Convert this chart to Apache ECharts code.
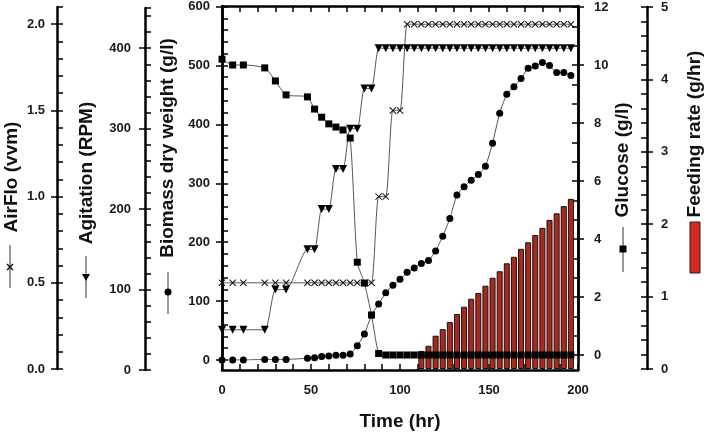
<!DOCTYPE html>
<html><head><meta charset="utf-8">
<script src="https://cdn.jsdelivr.net/npm/echarts@6/dist/echarts.min.js"></script>
<style>html,body{margin:0;padding:0;background:#fff}#c{width:709px;height:436px}</style>
</head><body><div id="c"></div>
<script>
// ---- data ----
const time = [0,6,12,24,30,36,48,52,56,60,64,68,72,76,80,84,88,92,96,100,104,108,112,116,120,124,128,132,136,140,144,148,152,156,160,164,168,172,176,180,184,188,192,196];
const biomass = [0,0,0,1,1,1,3,4,6,7,8,8,10,24,44,76,95,114,127,137,149,156,164,169,185,210,240,280,294,305,315,329,368,419,451,464,478,495,499,505,500,488,488,483];
const glucose = [10.2,10.0,10.0,9.9,9.45,8.97,8.9,8.48,8.2,7.97,7.86,7.76,7.48,3.2,2.48,1.38,0.05,0,0,0,0,0,0,0,0,0,0,0,0,0,0,0,0,0,0,0,0,0,0,0,0,0,0,0];
const agitation = [50,50,50,50,100,100,150,150,200,200,250,250,300,300,350,350,400,400,400,400,400,400,400,400,400,400,400,400,400,400,400,400,400,400,400,400,400,400,400,400,400,400,400,400];
const airflow = [0.5,0.5,0.5,0.5,0.5,0.5,0.5,0.5,0.5,0.5,0.5,0.5,0.5,0.5,0.5,0.5,1.0,1.0,1.5,1.5,2.0,2.0,2.0,2.0,2.0,2.0,2.0,2.0,2.0,2.0,2.0,2.0,2.0,2.0,2.0,2.0,2.0,2.0,2.0,2.0,2.0,2.0,2.0,2.0];
const feedTime = [112,116,120,124,128,132,136,140,144,148,152,156,160,164,168,172,176,180,184,188,192,196];
const feedRate = [0.25,0.32,0.46,0.55,0.65,0.76,0.86,0.97,1.05,1.15,1.26,1.35,1.46,1.55,1.66,1.75,1.85,1.95,2.06,2.15,2.25,2.35];

const FONT = 'Liberation Sans, Arial, sans-serif';
const lab = {fontFamily: FONT, fontWeight: 'bold', fontSize: 13, color: '#1a1a1a'};
const pair = (values) => values.map((v, i) => [time[i], v]);
const tickLine = {color: '#000', width: 1.5};

// grids: 0 frame, 1 biomass, 2 glucose, 3 airflow, 4 agitation, 5 feed
const grids = [
  {left: 222, right: 131, top: 6, bottom: 66},
  {left: 222, right: 131, top: 6, bottom: 76},
  {left: 222, right: 131, top: 7, bottom: 81},
  {left: 222, right: 131, top: 7, bottom: 67},
  {left: 222, right: 131, top: 8, bottom: 66},
  {left: 222, right: 131, top: 7, bottom: 67}
];

const xAxes = [
  {gridIndex: 0, type: 'value', position: 'bottom', min: 0, max: 200, interval: 50,
   axisLine: {show: true, onZero: false, lineStyle: {color: '#000', width: 2.5}},
   axisTick: {show: true, inside: true, length: 6, lineStyle: tickLine},
   minorTick: {show: true, splitNumber: 5, length: 6, lineStyle: tickLine},
   axisLabel: Object.assign({margin: 14}, lab), splitLine: {show: false}},
  {gridIndex: 0, type: 'value', position: 'top', min: 0, max: 200, interval: 50,
   axisLine: {show: true, onZero: false, lineStyle: {color: '#000', width: 2.5}},
   axisTick: {show: true, inside: true, length: 6, lineStyle: tickLine},
   minorTick: {show: true, splitNumber: 5, length: 6, lineStyle: tickLine},
   axisLabel: {show: false}, splitLine: {show: false}}
];
for (let g = 1; g <= 5; g++) {
  xAxes.push({gridIndex: g, type: 'value', min: 0, max: 200, show: false});
}
const xIdx = g => g + 1;

const yAxes = [];
function frameAxis(pos) {
  yAxes.push({gridIndex: 0, type: 'value', position: pos, min: 0, max: 1,
    axisLine: {show: true, onZero: false, lineStyle: {color: '#000', width: 2.5}},
    axisTick: {show: false}, axisLabel: {show: false}, splitLine: {show: false}});
}
frameAxis('left'); frameAxis('right');

function scaleAxis(g, pos, offset, min, max, interval, split, margin, showMax, decimals) {
  const idx = yAxes.length;
  yAxes.push({gridIndex: g, type: 'value', position: pos, offset: offset, min: min, max: max, interval: interval,
    axisLine: {show: true, onZero: false, lineStyle: {color: '#000', width: 2.5}},
    axisTick: {show: true, length: 6, lineStyle: tickLine},
    axisLabel: Object.assign({margin: margin, showMaxLabel: showMax,
      formatter: v => v.toFixed(decimals)}, lab),
    splitLine: {show: false}});
  yAxes.push({gridIndex: g, type: 'value', position: pos, offset: offset, min: min, max: max, interval: interval,
    axisLine: {show: false, onZero: false},
    axisTick: {show: true, inside: true, length: 6, lineStyle: tickLine},
    minorTick: {show: true, splitNumber: split, length: 6, lineStyle: tickLine},
    axisLabel: {show: false}, splitLine: {show: false}});
  return idx;
}
const yBio = scaleAxis(1, 'left', 0, 0, 600, 100, 5, 12, true, 0);
const yGlu = scaleAxis(2, 'right', 0, 0, 12, 2, 3, 16, true, 0);
const yAir = scaleAxis(3, 'left', 165, 0, 2.1, 0.5, 5, 12, false, 1);
const yAgi = scaleAxis(4, 'left', 77, 0, 450, 100, 5, 14, false, 0);
const yFeed = scaleAxis(5, 'right', 69, 0, 5, 1, 5, 14, true, 0);

const lineStyle = {color: '#555', width: 1};
const series = [
  {type: 'bar', name: 'Feeding rate', xAxisIndex: xIdx(5), yAxisIndex: yFeed,
   data: feedTime.map((t, i) => [t, feedRate[i]]), barWidth: 6, z: 1,
   itemStyle: {color: '#ac281d', borderColor: '#111', borderWidth: 1}},
  {type: 'line', name: 'AirFlo', xAxisIndex: xIdx(3), yAxisIndex: yAir, data: pair(airflow),
   smooth: 0.2, symbol: 'path://M1,0L5,4L9,0L10,1L6,5L10,9L9,10L5,6L1,10L0,9L4,5L0,1Z', symbolSize: 7,
   lineStyle: lineStyle, itemStyle: {color: '#111'}, z: 3},
  {type: 'line', name: 'Agitation', xAxisIndex: xIdx(4), yAxisIndex: yAgi, data: pair(agitation),
   smooth: 0.2, symbol: 'triangle', symbolRotate: 180, symbolSize: 8,
   lineStyle: lineStyle, itemStyle: {color: '#000'}, z: 3},
  {type: 'line', name: 'Biomass', xAxisIndex: xIdx(1), yAxisIndex: yBio, data: pair(biomass),
   smooth: 0.2, symbol: 'circle', symbolSize: 7,
   lineStyle: lineStyle, itemStyle: {color: '#000'}, z: 3},
  {type: 'line', name: 'Glucose', xAxisIndex: xIdx(2), yAxisIndex: yGlu, data: pair(glucose),
   smooth: 0.2, symbol: 'rect', symbolSize: 7,
   lineStyle: lineStyle, itemStyle: {color: '#000'}, z: 3}
];

const nameStyle = {fontFamily: FONT, fontWeight: 'bold', fontSize: 19, fill: '#111', align: 'center', verticalAlign: 'middle'};
function vText(txt, x, y) {
  return {type: 'text', x: x, y: y, rotation: Math.PI / 2, style: Object.assign({text: txt}, nameStyle)};
}
function vLine(x, y1, y2) {
  return {type: 'line', shape: {x1: x, y1: y1, x2: x, y2: y2}, style: {stroke: '#333', lineWidth: 1}};
}
const graphic = [
  {type: 'text', x: 400, y: 422, style: Object.assign({text: 'Time (hr)'}, nameStyle)},
  vText('AirFlo (vvm)', 12, 177), vLine(10, 245, 288),
  {type: 'polygon', x: 6.5, y: 263.5, shape: {points: [[1,0],[3.5,2.5],[6,0],[7,1],[4.5,3.5],[7,6],[6,7],[3.5,4.5],[1,7],[0,6],[2.5,3.5],[0,1]]}, style: {fill: '#111'}},
  vText('Agitation (RPM)', 87, 173), vLine(86, 256, 298),
  {type: 'polygon', shape: {points: [[82, 274], [90, 274], [86, 281]]}, style: {fill: '#000'}},
  vText('Biomass dry weight (g/l)', 168, 148), vLine(168, 272, 314),
  {type: 'circle', shape: {cx: 168, cy: 292, r: 3.5}, style: {fill: '#000'}},
  vText('Glucose (g/l)', 623, 160), vLine(623, 227, 272),
  {type: 'rect', shape: {x: 619.5, y: 245.5, width: 7, height: 7}, style: {fill: '#000'}},
  vText('Feeding rate (g/hr)', 695, 134),
  {type: 'rect', shape: {x: 690, y: 222, width: 10, height: 51}, style: {fill: '#d42a1e', stroke: '#222', lineWidth: 1}}
];

const chart = echarts.init(document.getElementById('c'));
chart.setOption({
  animation: false,
  backgroundColor: '#fff',
  grid: grids,
  xAxis: xAxes,
  yAxis: yAxes,
  series: series,
  graphic: graphic
});
</script>
</body></html>
